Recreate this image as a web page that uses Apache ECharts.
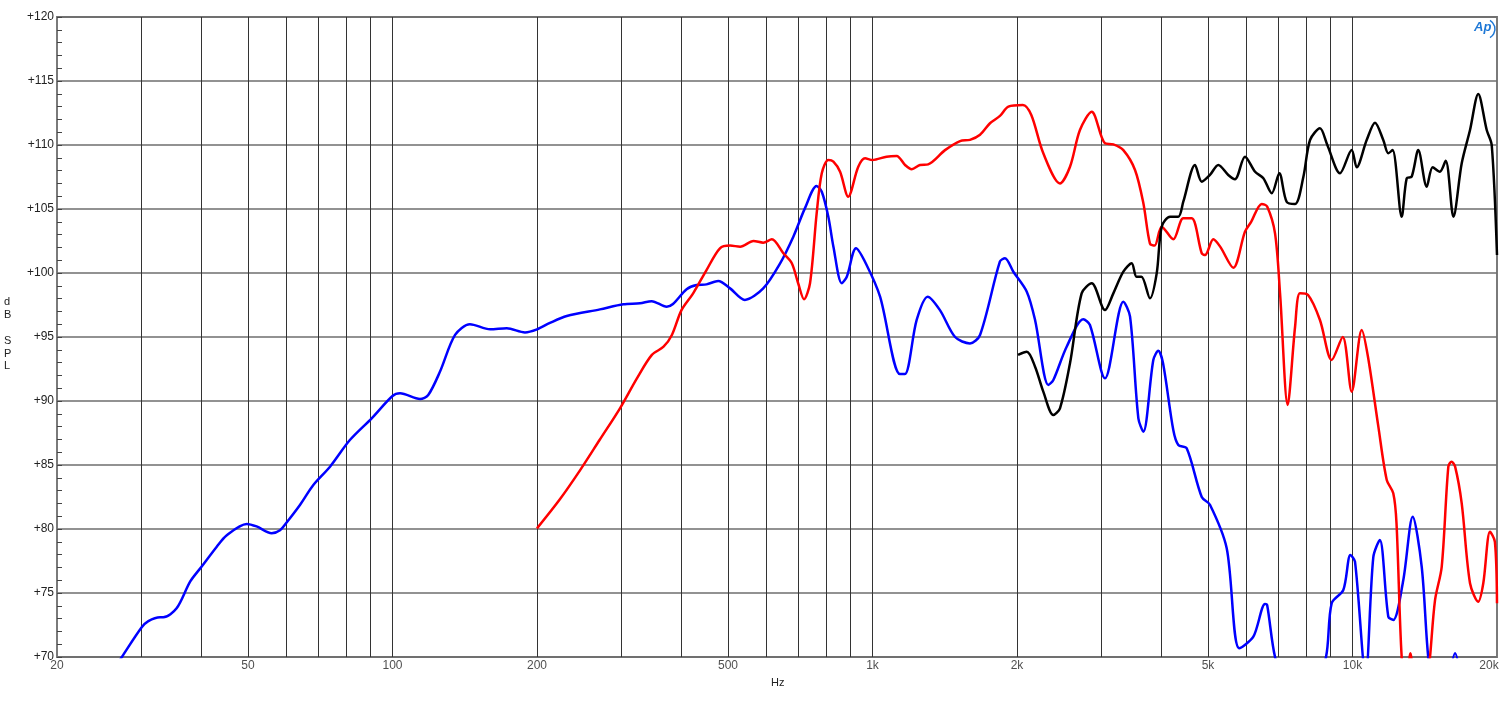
<!DOCTYPE html>
<html>
<head>
<meta charset="utf-8">
<script src="https://cdn.jsdelivr.net/npm/echarts@6/dist/echarts.min.js"></script>
<style>
html,body{margin:0;padding:0;background:#fff;}
#c{width:1500px;height:707px;}
</style>
</head>
<body>
<div id="c"></div>
<script>
// Frequency (Hz), level (dB SPL)
const blueSeries = [[25,67.8],[27.3,70.0],[30,72.3],[31,72.8],[32.8,73.1],[33.3,73.1],[35.5,73.8],[37.9,75.9],[40,77.05],[43,78.6],[45.1,79.5],[49.7,80.4],[52.1,80.2],[56,79.66],[58.3,79.9],[60,80.45],[64.2,81.9],[68.4,83.44],[74.1,84.87],[81.5,86.95],[90.5,88.65],[100,90.39],[103.7,90.6],[114.1,90.16],[118.7,90.47],[125.6,92.3],[135,95.16],[145,96.0],[159.7,95.6],[173,95.68],[188.8,95.36],[200,95.6],[212.8,96.1],[230.7,96.64],[270.5,97.16],[302.6,97.55],[327.8,97.63],[346.7,97.8],[372.6,97.37],[384,97.58],[410,98.73],[430,99.06],[451,99.11],[477,99.38],[505,98.8],[542,97.9],[592,98.8],[642,100.76],[684,102.84],[723,105.05],[765,106.8],[784,106.35],[809,104.4],[829,102.06],[863,99.2],[884,99.71],[924,101.93],[972,100.63],[1037,98.15],[1141,92.1],[1168,92.1],[1236,96.33],[1303,98.15],[1382,97.1],[1486,95.0],[1596,94.5],[1675,95.16],[1843,100.9],[1888,101.15],[1965,100.1],[2096,98.54],[2181,96.33],[2325,91.25],[2381,91.64],[2538,94.24],[2749,96.38],[2838,95.94],[3050,91.77],[3331,97.76],[3440,96.59],[3580,88.65],[3667,87.6],[3846,93.2],[3939,93.93],[4030,92.95],[4233,87.73],[4336,86.56],[4514,86.3],[4852,82.5],[5047,81.9],[5469,78.5],[5809,70.68],[6215,71.59],[6574,74.14],[6640,74.06],[6896,70],[7800,63],[8806,70],[9050,74.2],[9568,75.23],[9900,77.97],[10120,77.45],[10650,68.5],[11050,77.8],[11400,79.14],[11874,73.15],[12160,72.9],[12758,76.0],[13348,80.96],[13937,77.05],[14380,70],[15200,63],[15900,68.3],[16355,70.3],[16800,68.3],[17600,62],[20000,58]];

const redSeries = [[200,80.05],[223,82.3],[246,84.6],[270,86.95],[298,89.45],[323,91.77],[347,93.6],[367,94.24],[382,95.16],[400,97.1],[423,98.41],[451,100.23],[481,101.93],[505,102.14],[530,102.06],[565,102.5],[592,102.37],[617,102.63],[652,101.54],[679,100.76],[700,99.2],[720,97.95],[741,99.2],[765,104.66],[784,107.79],[809,108.83],[829,108.7],[856,107.91],[890,105.96],[934,108.3],[965,108.96],[1000,108.83],[1070,109.09],[1123,109.14],[1169,108.44],[1207,108.1],[1256,108.44],[1306,108.49],[1416,109.6],[1522,110.31],[1596,110.4],[1675,110.8],[1757,111.7],[1843,112.27],[1919,113.0],[2057,113.13],[2142,112.34],[2269,109.35],[2458,107.0],[2579,108.3],[2705,111.17],[2862,112.6],[3050,110.13],[3175,110.05],[3331,109.6],[3523,108.05],[3667,105.45],[3785,102.3],[3870,102.14],[4004,103.62],[4233,102.63],[4441,104.27],[4624,104.27],[4852,101.54],[4930,101.4],[5129,102.63],[5300,102.06],[5645,100.41],[5970,103.23],[6150,104.0],[6470,105.4],[6640,105.2],[6896,103.1],[7064,98.41],[7326,89.69],[7592,95.8],[7770,98.41],[8080,98.28],[8554,96.33],[9050,93.2],[9541,95.0],[9961,90.73],[10452,95.55],[10770,93.46],[11320,88.0],[11785,83.83],[12160,82.79],[12350,80.45],[12660,70],[12950,67.5],[13200,70.3],[13450,67.5],[14000,64],[14505,70],[14857,74.45],[15341,77.05],[15836,84.87],[16080,85.26],[16360,84.87],[16886,82.0],[17572,75.76],[18280,74.32],[18727,75.76],[19340,79.79],[19800,79.0],[20000,74.2]];

const blackSeries = [[2010,93.6],[2096,93.85],[2181,92.68],[2269,90.73],[2381,88.9],[2458,89.43],[2579,92.95],[2727,98.41],[2862,99.2],[3050,97.1],[3175,98.41],[3331,100.1],[3467,100.76],[3548,99.71],[3633,99.71],[3785,98.02],[3909,99.97],[4004,103.62],[4168,104.4],[4336,104.4],[4441,105.57],[4698,108.44],[4852,107.13],[5047,107.66],[5253,108.44],[5510,107.66],[5690,107.32],[5970,109.09],[6267,107.91],[6520,107.4],[6788,106.23],[7039,107.79],[7290,105.57],[7592,105.4],[7901,107.52],[8157,110.39],[8554,111.3],[8862,110.0],[9419,107.79],[9961,109.6],[10203,108.26],[10704,110.39],[11140,111.74],[11590,110.39],[11874,109.35],[12120,109.6],[12660,104.4],[12970,107.4],[13280,107.52],[13710,109.6],[14275,106.74],[14690,108.26],[15200,107.91],[15637,108.77],[16227,104.4],[16886,108.57],[17572,111.17],[18280,113.98],[19037,111.17],[19500,110.0],[20000,101.4]];

const xGridFreqs = [30,40,50,60,70,80,90,100,200,300,400,500,600,700,800,900,1000,2000,3000,4000,5000,6000,7000,8000,9000,10000];
const xTickValues = [20,50,100,200,500,1000,2000,5000,10000,20000];
const xTickTexts = ['20','50','100','200','500','1k','2k','5k','10k','20k'];
const yMin = 70, yMax = 120, yStep = 5;

const chart = echarts.init(document.getElementById('c'), null, {renderer:'canvas'});

const gridLineData = xGridFreqs.map(f => ({xAxis: f}));
const tickLabelPoints = xTickValues.map((f, i) => {
  const item = {value:[f, yMin], name:xTickTexts[i]};
  if (i === xTickValues.length - 1) item.label = {offset:[-8, 0]};
  return item;
});

const lineCommon = {type:'line', showSymbol:false, smooth:0.3, clip:true, animation:false, z:5};
const font = 'Liberation Sans, Arial, sans-serif';

chart.setOption({
  animation:false,
  grid:{left:57, right:3, top:17, bottom:50, show:true, borderColor:'#7a7a7a', borderWidth:2, backgroundColor:'#fff'},
  xAxis:{type:'log', logBase:10, min:20, max:20000,
    axisLine:{show:false}, axisTick:{show:false}, axisLabel:{show:false}, splitLine:{show:false}},
  yAxis:{type:'value', min:yMin, max:yMax, interval:yStep,
    axisLine:{show:false},
    axisTick:{show:true, inside:true, length:5, lineStyle:{color:'#444'}},
    minorTick:{show:true, splitNumber:5, length:5, lineStyle:{color:'#444'}},
    axisLabel:{formatter:v => '+' + v, margin:3, color:'#222', fontSize:12, fontFamily:font},
    splitLine:{show:true, lineStyle:{color:'#6e6e6e', width:1.5}}},
  series:[
    {type:'line', data:[], z:1, silent:true,
     markLine:{silent:true, symbol:['none','none'], animation:false,
       label:{show:false},
       lineStyle:{type:'solid', color:'#333', width:1},
       data: gridLineData}},
    {type:'scatter', data:tickLabelPoints, symbolSize:0, silent:true, clip:false, z:2,
     label:{show:true, position:'bottom', distance:3, formatter:p => p.name, color:'#222', fontSize:12, fontFamily:font}},
    Object.assign({name:'blue', data:blueSeries, lineStyle:{color:'#0000ff', width:2.5}, itemStyle:{color:'#0000ff'}}, lineCommon),
    Object.assign({name:'red', data:redSeries, lineStyle:{color:'#ff0000', width:2.5}, itemStyle:{color:'#ff0000'}}, lineCommon),
    Object.assign({name:'black', data:blackSeries, lineStyle:{color:'#000000', width:2.5}, itemStyle:{color:'#000'}}, lineCommon)
  ],
  graphic:[
    {type:'text', left:4, top:296, style:{text:'d\nB\n\nS\nP\nL', fill:'#222', fontSize:11, lineHeight:12.8, fontFamily:font}},
    {type:'text', left:771, top:677, style:{text:'Hz', fill:'#222', fontSize:11, fontFamily:font}},
    {type:'text', left:1474, top:21, style:{text:'Ap', fill:'#1e78d6', fontSize:13, fontStyle:'italic', fontWeight:'bold', fontFamily:font}},
    {type:'arc', shape:{cx:1485, cy:29, r:10, startAngle:-Math.PI/3, endAngle:Math.PI/3}, style:{stroke:'#1e78d6', lineWidth:1.5, fill:null}}
  ]
});
</script>
</body>
</html>
